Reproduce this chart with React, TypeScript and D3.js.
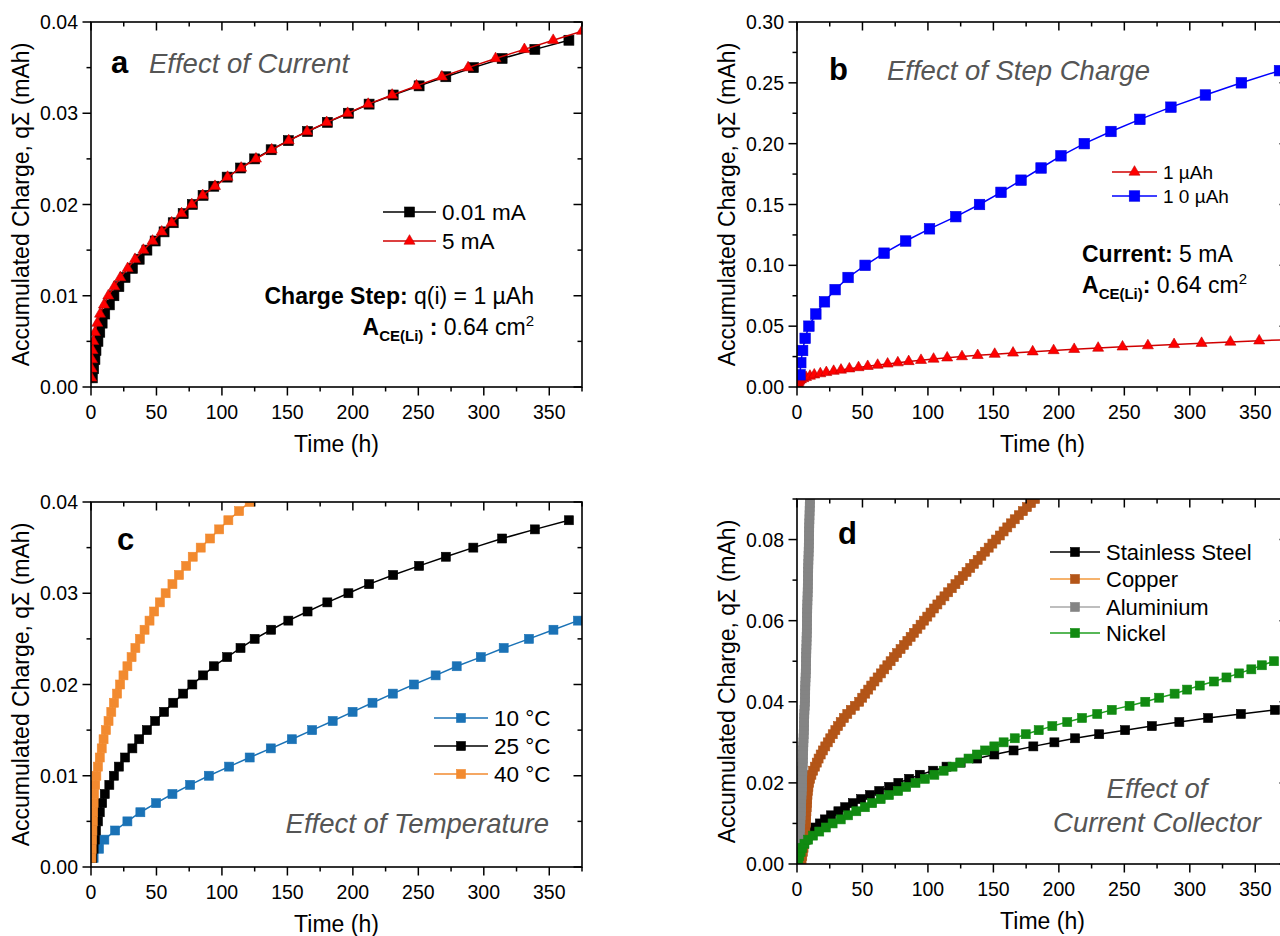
import React from 'react';
import * as d3 from 'd3';

const FONT = "'Liberation Sans', Arial, Helvetica, sans-serif";

// accumulated charge after each step (mAh)
const chargeSteps1uAh = [
  0.001, 0.002, 0.003, 0.004, 0.005, 0.006, 0.007, 0.008, 0.009, 0.010,
  0.011, 0.012, 0.013, 0.014, 0.015, 0.016, 0.017, 0.018, 0.019, 0.020,
  0.021, 0.022, 0.023, 0.024, 0.025, 0.026, 0.027, 0.028, 0.029, 0.030,
  0.031, 0.032, 0.033, 0.034, 0.035, 0.036, 0.037, 0.038, 0.039, 0.040,
  0.041, 0.042, 0.043, 0.044, 0.045, 0.046, 0.047, 0.048, 0.049, 0.050,
  0.051, 0.052, 0.053, 0.054, 0.055, 0.056, 0.057, 0.058, 0.059, 0.060,
  0.061, 0.062, 0.063, 0.064, 0.065, 0.066, 0.067, 0.068, 0.069, 0.070,
  0.071, 0.072, 0.073, 0.074, 0.075, 0.076, 0.077, 0.078, 0.079, 0.080,
  0.081, 0.082, 0.083, 0.084, 0.085, 0.086, 0.087, 0.088, 0.089, 0.090,
];
const chargeSteps10uAh = [
  0.01, 0.02, 0.03, 0.04, 0.05, 0.06, 0.07, 0.08, 0.09, 0.10, 0.11, 0.12, 0.13,
  0.14, 0.15, 0.16, 0.17, 0.18, 0.19, 0.20, 0.21, 0.22, 0.23, 0.24, 0.25, 0.26,
];

// time (h) at which each step is reached
// 0.01 mA / 25 °C / stainless steel (same reference cell)
const timeRef = [
  1, 2, 3, 3.8, 5.3, 6.7, 8.5, 10.5, 14, 17.5, 21.3, 26, 31.6, 36.8, 42.7, 49,
  55.8, 62.8, 70.4, 77.4, 85.6, 93.8, 104, 114.2, 125, 137.6, 150.7, 165.4,
  180.5, 196.6, 212.4, 230.8, 250.6, 271, 292, 314, 339, 365,
];
// 5 mA, 1 µAh steps
const time5mA = [
  0.2, 0.5, 0.8, 1.2, 1.8, 3, 4.8, 6.9, 9.9, 13.2, 17.8, 22.4, 28, 33.6, 40, 47,
  54, 61.6, 69.2, 77, 85.3, 94.7, 104.3, 114.7, 126, 138, 151, 165, 180, 196,
  211.7, 230, 248.6, 268, 288, 309, 331, 353, 375,
];
// 5 mA, 10 µAh steps
const time10uAh = [
  2.3, 2.9, 4.3, 6.2, 9.1, 14.4, 21, 29.1, 39, 52, 66.5, 83, 101.2, 121.3, 139.4,
  155.8, 171.1, 186.4, 201.6, 219.4, 239.8, 261.9, 285.6, 311.9, 339.4, 368.5,
];
const time10C = [
  2, 6.1, 10.2, 18.4, 27.8, 37.7, 49.7, 62.2, 75.7, 90, 105.5, 121.2, 137.3,
  153.4, 168.9, 184.6, 199.8, 215, 230.5, 246.6, 263.2, 279.3, 297.7, 315.2,
  334.5, 353.2, 371.9,
];
const time40C = [
  0.3, 0.5, 0.8, 1.1, 1.4, 1.7, 2.0, 2.3, 3.2, 4.1, 5.3, 6.7, 8.2, 9.6, 11.4,
  13.4, 15.5, 17.5, 19.9, 22.2, 24.8, 27.8, 31, 33.9, 37.4, 40.9, 44.7, 48.2,
  52.6, 57, 62.2, 67.2, 72.7, 77.7, 83.8, 90.9, 97.9, 104.9, 113.1, 121.2,
];
const timeCopper = [
  3.5, 4, 4.5, 5, 5.3, 5.6, 5.9, 6.2, 6.4, 6.6, 6.8, 7.0, 7.2, 7.4, 7.6, 7.8,
  8.0, 8.3, 8.7, 9.2, 10, 11, 12.3, 13.7, 15.1, 16.5, 18.1, 19.8, 21.6, 23.5,
  25.4, 27.3, 29.3, 31.3, 33.4, 35.8, 38.4, 41.1, 44.2, 47.5, 49.8, 52.1, 54.4,
  56.7, 59.1, 61.6, 64.1, 66.6, 69, 71.5, 74, 76.5, 79.1, 81.7, 84.3, 86.8,
  89.3, 91.9, 94.4, 97, 99.5, 102, 104.6, 107.2, 109.8, 112.6, 115.4, 118.2,
  121, 123.9, 126.7, 129.5, 132.3, 135.1, 138, 140.8, 143.6, 146.4, 149.2, 152,
  154.9, 157.8, 160.6, 163.4, 166.3, 169.4, 172.5, 175.6, 178.7, 181.8,
];
const timeAluminium = [
  0.4, 0.7, 1.0, 1.3, 1.5, 1.7, 1.9, 2.1, 2.3, 2.5, 2.65, 2.8, 2.95, 3.1, 3.2,
  3.3, 3.45, 3.55, 3.7, 3.8, 3.9, 4.0, 4.15, 4.25, 4.35, 4.45, 4.55, 4.7, 4.8,
  4.9, 5.0, 5.1, 5.2, 5.3, 5.4, 5.5, 5.6, 5.7, 5.85, 6.0, 6.1, 6.2, 6.3, 6.35,
  6.45, 6.55, 6.65, 6.75, 6.85, 6.95, 7.0, 7.1, 7.15, 7.25, 7.3, 7.35, 7.45,
  7.5, 7.55, 7.6, 7.7, 7.75, 7.85, 7.9, 8.0, 8.05, 8.15, 8.2, 8.3, 8.35, 8.45,
  8.5, 8.6, 8.65, 8.75, 8.8, 8.9, 8.95, 9.05, 9.1, 9.2, 9.25, 9.35, 9.4, 9.5,
  9.55, 9.65, 9.7, 9.8, 9.85,
];
const timeNickel = [
  1, 1.7, 2.8, 4, 5.7, 8.5, 12.2, 17, 22, 27.2, 33.4, 39, 45.3, 51.8, 57.4, 63.9,
  70.2, 77.2, 83.4, 90.5, 97.6, 104.9, 112, 118.8, 124.7, 131, 137.4, 143.7,
  150.7, 157.8, 166.3, 174.7, 184.6, 195, 206.4, 217.7, 229.3, 240.4, 254, 266,
  276.6, 288.4, 298, 307.6, 318.4, 328, 337.6, 347, 355, 364.3,
];

const xMajor = [0, 50, 100, 150, 200, 250, 300, 350];
const xMinor = [25, 75, 125, 175, 225, 275, 325, 375];
const yMajorSmall = [0, 0.01, 0.02, 0.03, 0.04];
const yMinorSmall = [0.005, 0.015, 0.025, 0.035];
const yMajorB = [0, 0.05, 0.1, 0.15, 0.2, 0.25, 0.3];
const yMinorB = [0.025, 0.075, 0.125, 0.175, 0.225, 0.275];
const yMajorD = [0, 0.02, 0.04, 0.06, 0.08];
const yMinorD = [0.01, 0.03, 0.05, 0.07, 0.09];

type Box = { left: number; right: number; top: number; bottom: number };
type Series = {
  times: number[];
  charges: number[];
  shape: 'square' | 'triangle';
  fill: string;
  stroke: string;
  line: string;
  size: number;
};

const BOX_A: Box = { left: 91, right: 582, top: 22, bottom: 387 };
const BOX_B: Box = { left: 797, right: 1288, top: 22, bottom: 387 };
const BOX_C: Box = { left: 91, right: 582, top: 502, bottom: 867 };
const BOX_D: Box = { left: 797, right: 1288, top: 499, bottom: 864 };

function Marker({ shape, cx, cy, size, fill, stroke }: any) {
  if (shape === 'square') {
    return <rect x={cx - size / 2} y={cy - size / 2} width={size} height={size} fill={fill} stroke={stroke} strokeWidth={0.6} />;
  }
  const h = (size * Math.sqrt(3)) / 2;
  const pts = [
    [cx, cy - (2 * h) / 3],
    [cx + size / 2, cy + h / 3],
    [cx - size / 2, cy + h / 3],
  ];
  return <polygon points={pts.map(p => p.join(',')).join(' ')} fill={fill} stroke={stroke} strokeWidth={0.6} />;
}

function LegendRow({ x1, x2, y, s, label, fontSize }: { x1: number; x2: number; y: number; s: Series; label: string; fontSize: number }) {
  return (
    <g>
      <line x1={x1} x2={x2} y1={y} y2={y} stroke={s.line} strokeWidth={1.6} />
      <Marker shape={s.shape} cx={(x1 + x2) / 2} cy={y} size={s.size} fill={s.fill} stroke={s.stroke} />
      <text x={x2 + 6} y={y + fontSize * 0.36} fontSize={fontSize} fontFamily={FONT}>{label}</text>
    </g>
  );
}

function Panel({ id, box, yMax, yMajor, yMinor, series, children }: {
  id: string; box: Box; yMax: number; yMajor: number[]; yMinor: number[]; series: Series[]; children?: React.ReactNode;
}) {
  const x = d3.scaleLinear().domain([0, 375]).range([box.left, box.right]);
  const y = d3.scaleLinear().domain([0, yMax]).range([box.bottom, box.top]);
  const line = d3.line<number>().x((_, i) => 0).y(() => 0);
  const fmt = d3.format('.2f');
  const maj = 8.5, mnr = 4.5;
  return (
    <g>
      <defs>
        <clipPath id={`clip-${id}`}>
          <rect x={box.left} y={box.top} width={box.right - box.left} height={box.bottom - box.top} />
        </clipPath>
      </defs>
      <g clipPath={`url(#clip-${id})`}>
        {series.map((s, k) => {
          const pts: [number, number][] = s.times.map((t, i) => [x(t), y(s.charges[i])]);
          const path = d3.line()(pts) || '';
          return (
            <g key={k}>
              <path d={path} fill="none" stroke={s.line} strokeWidth={1.5} />
              {pts.map((p, i) => (
                <Marker key={i} shape={s.shape} cx={p[0]} cy={p[1]} size={s.size} fill={s.fill} stroke={s.stroke} />
              ))}
            </g>
          );
        })}
      </g>
      <rect x={box.left} y={box.top} width={box.right - box.left} height={box.bottom - box.top} fill="none" stroke="#000" strokeWidth={1.6} />
      {xMajor.map(v => (
        <g key={`xm${v}`}>
          <line x1={x(v)} x2={x(v)} y1={box.bottom} y2={box.bottom + maj} stroke="#000" strokeWidth={1.5} />
          <line x1={x(v)} x2={x(v)} y1={box.top} y2={box.top + maj} stroke="#000" strokeWidth={1.5} />
          <text x={x(v)} y={box.bottom + 31.5} textAnchor="middle" fontSize={19.5} fontFamily={FONT}>{v}</text>
        </g>
      ))}
      {xMinor.map(v => (
        <g key={`xn${v}`}>
          <line x1={x(v)} x2={x(v)} y1={box.bottom} y2={box.bottom + mnr} stroke="#000" strokeWidth={1.5} />
          <line x1={x(v)} x2={x(v)} y1={box.top} y2={box.top + mnr} stroke="#000" strokeWidth={1.5} />
        </g>
      ))}
      {yMajor.map(v => (
        <g key={`ym${v}`}>
          <line x1={box.left - maj} x2={box.left} y1={y(v)} y2={y(v)} stroke="#000" strokeWidth={1.5} />
          <line x1={box.right - maj} x2={box.right} y1={y(v)} y2={y(v)} stroke="#000" strokeWidth={1.5} />
          <text x={box.left - 13} y={y(v) + 7} textAnchor="end" fontSize={19.5} fontFamily={FONT}>{fmt(v)}</text>
        </g>
      ))}
      {yMinor.map(v => (
        <g key={`yn${v}`}>
          <line x1={box.left - mnr} x2={box.left} y1={y(v)} y2={y(v)} stroke="#000" strokeWidth={1.5} />
          <line x1={box.right - mnr} x2={box.right} y1={y(v)} y2={y(v)} stroke="#000" strokeWidth={1.5} />
        </g>
      ))}
      <text x={(box.left + box.right) / 2} y={box.bottom + 65} textAnchor="middle" fontSize={23} fontFamily={FONT}>Time (h)</text>
      <text transform={`translate(${box.left - 62},${(box.top + box.bottom) / 2}) rotate(-90)`} textAnchor="middle" fontSize={23} fontFamily={FONT}>
        Accumulated Charge, qΣ (mAh)
      </text>
      {children}
    </g>
  );
}

const sRef: Series = { times: timeRef, charges: chargeSteps1uAh, shape: 'square', fill: '#000', stroke: '#000', line: '#000', size: 10 };
const s5mA: Series = { times: time5mA, charges: chargeSteps1uAh, shape: 'triangle', fill: '#ff0000', stroke: '#c00000', line: '#d00000', size: 11 };
const s10uAh: Series = { times: time10uAh, charges: chargeSteps10uAh, shape: 'square', fill: '#0000ff', stroke: '#0000e0', line: '#0000ff', size: 10.5 };
const s10C: Series = { times: time10C, charges: chargeSteps1uAh, shape: 'square', fill: '#1a72b6', stroke: '#1a72b6', line: '#1a72b6', size: 9 };
const s25C: Series = { ...sRef, size: 9 };
const s40C: Series = { times: time40C, charges: chargeSteps1uAh, shape: 'square', fill: '#f28a2f', stroke: '#f28a2f', line: '#f28a2f', size: 9 };
const sSS: Series = { ...sRef, size: 9 };
const sCu: Series = { times: timeCopper, charges: chargeSteps1uAh, shape: 'square', fill: '#b35518', stroke: '#b35518', line: '#f39a3c', size: 9 };
const sAl: Series = { times: timeAluminium, charges: chargeSteps1uAh, shape: 'square', fill: '#848484', stroke: '#848484', line: '#a8a8a8', size: 9 };
const sNi: Series = { times: timeNickel, charges: chargeSteps1uAh, shape: 'square', fill: '#118a11', stroke: '#118a11', line: '#1f9f1f', size: 9 };

const grey = '#555555';

export default function App() {
  return (
    <svg width={1280} height={936} style={{ position: 'absolute', left: 0, top: 0, background: '#fff' }} fontFamily={FONT}>
      <rect width={1280} height={936} fill="#fff" />
      <Panel id="a" box={BOX_A} yMax={0.04} yMajor={yMajorSmall} yMinor={yMinorSmall} series={[sRef, s5mA]}>
        <text x={111} y={73} fontSize={31} fontWeight="bold">a</text>
        <text x={149} y={73} fontSize={27.5} fontStyle="italic" fill={grey}>Effect of Current</text>
        <LegendRow x1={383} x2={436} y={212} s={sRef} label="0.01 mA" fontSize={22.5} />
        <LegendRow x1={383} x2={436} y={241} s={s5mA} label="5 mA" fontSize={22.5} />
        <text x={534} y={304} fontSize={23} textAnchor="end">
          <tspan fontWeight="bold">Charge Step:</tspan>
          <tspan> q(i) = 1 µAh</tspan>
        </text>
        <text x={534} y={335} fontSize={23} textAnchor="end">
          <tspan fontWeight="bold">A</tspan>
          <tspan fontWeight="bold" fontSize={15} dy={6}>CE(Li)</tspan>
          <tspan fontWeight="bold" dy={-6}> :</tspan>
          <tspan> 0.64 cm</tspan>
          <tspan fontSize={15} dy={-9}>2</tspan>
        </text>
      </Panel>
      <Panel id="b" box={BOX_B} yMax={0.3} yMajor={yMajorB} yMinor={yMinorB} series={[s5mA, s10uAh]}>
        <text x={829} y={80} fontSize={31} fontWeight="bold">b</text>
        <text x={887} y={80} fontSize={27.5} fontStyle="italic" fill={grey}>Effect of Step Charge</text>
        <LegendRow x1={1112} x2={1157} y={172} s={s5mA} label="1 µAh" fontSize={19} />
        <LegendRow x1={1112} x2={1157} y={196} s={s10uAh} label="1 0 µAh" fontSize={19} />
        <text x={1082} y={262} fontSize={23}>
          <tspan fontWeight="bold">Current:</tspan>
          <tspan> 5 mA</tspan>
        </text>
        <text x={1082} y={293} fontSize={23}>
          <tspan fontWeight="bold">A</tspan>
          <tspan fontWeight="bold" fontSize={15} dy={6}>CE(Li)</tspan>
          <tspan fontWeight="bold" dy={-6}>:</tspan>
          <tspan> 0.64 cm</tspan>
          <tspan fontSize={15} dy={-9}>2</tspan>
        </text>
      </Panel>
      <Panel id="c" box={BOX_C} yMax={0.04} yMajor={yMajorSmall} yMinor={yMinorSmall} series={[s10C, s25C, s40C]}>
        <text x={117} y={550} fontSize={31} fontWeight="bold">c</text>
        <LegendRow x1={434} x2={488} y={718} s={s10C} label="10 °C" fontSize={22.5} />
        <LegendRow x1={434} x2={488} y={746} s={s25C} label="25 °C" fontSize={22.5} />
        <LegendRow x1={434} x2={488} y={774} s={s40C} label="40 °C" fontSize={22.5} />
        <text x={549} y={833} fontSize={27.5} fontStyle="italic" fill={grey} textAnchor="end">Effect of Temperature</text>
      </Panel>
      <Panel id="d" box={BOX_D} yMax={0.09} yMajor={yMajorD} yMinor={yMinorD} series={[sSS, sCu, sAl, sNi]}>
        <text x={838} y={544} fontSize={31} fontWeight="bold">d</text>
        <LegendRow x1={1050} x2={1100} y={552} s={sSS} label="Stainless Steel" fontSize={22} />
        <LegendRow x1={1050} x2={1100} y={579} s={sCu} label="Copper" fontSize={22} />
        <LegendRow x1={1050} x2={1100} y={607} s={sAl} label="Aluminium" fontSize={22} />
        <LegendRow x1={1050} x2={1100} y={633} s={sNi} label="Nickel" fontSize={22} />
        <text x={1157} y={798} fontSize={27.5} fontStyle="italic" fill={grey} textAnchor="middle">Effect of</text>
        <text x={1157} y={832} fontSize={27.5} fontStyle="italic" fill={grey} textAnchor="middle">Current Collector</text>
      </Panel>
    </svg>
  );
}
